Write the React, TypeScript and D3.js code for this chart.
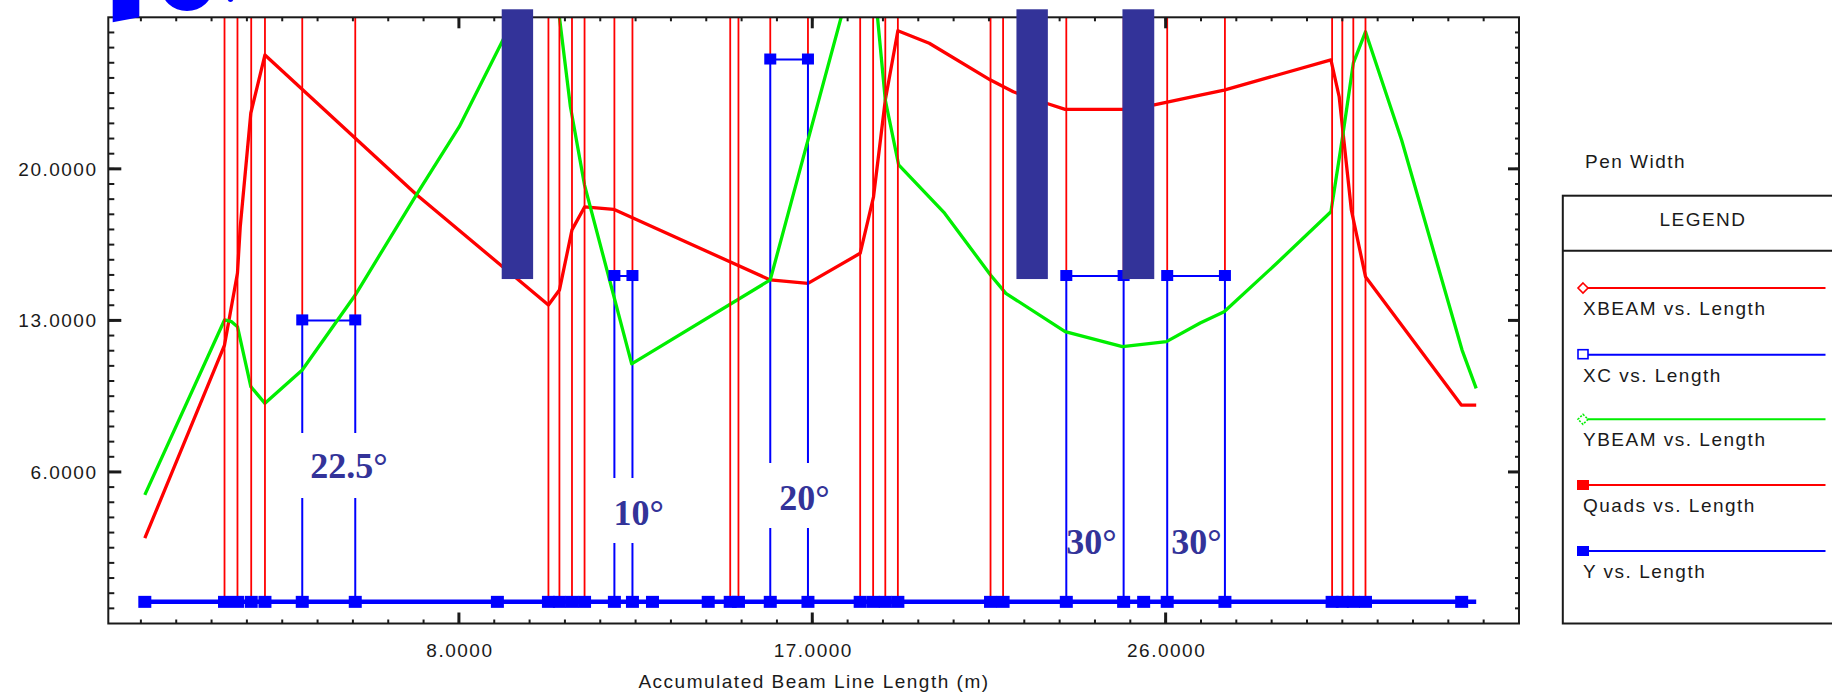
import React from 'react';
import * as d3 from 'd3';

// ---- data ----
const xbeamS = [0.0, 2.03, 2.36, 2.43, 2.70, 3.06, 6.93, 10.28, 10.56, 10.88, 11.20, 11.94, 15.93, 16.89, 18.22, 18.56, 18.86, 19.18, 19.98, 21.54, 22.12, 22.96, 23.44, 24.90, 25.71, 26.88, 27.49, 30.21, 30.42, 30.73, 31.09, 33.53, 33.91];
const xbeamV = [2.94, 11.86, 15.19, 17.31, 22.58, 25.26, 18.79, 13.71, 14.40, 17.18, 18.24, 18.13, 14.87, 14.71, 16.10, 18.71, 23.18, 26.38, 25.80, 24.10, 23.56, 23.03, 22.75, 22.75, 22.95, 23.41, 23.64, 25.03, 23.33, 18.10, 15.02, 9.09, 9.09];

const ybeamS = [0.0, 2.03, 2.21, 2.36, 2.70, 3.06, 4.01, 5.36, 6.94, 8.01, 9.08, 10.28, 10.56, 10.84, 11.20, 12.40, 15.93, 16.89, 17.74, 18.37, 18.66, 18.86, 19.20, 20.37, 21.54, 21.93, 23.44, 24.90, 26.02, 26.88, 27.49, 28.83, 30.21, 30.52, 30.78, 31.09, 32.01, 33.55, 33.91];
const ybeamV = [4.94, 13.02, 12.94, 12.71, 9.94, 9.17, 10.71, 14.17, 18.87, 21.95, 25.80, 30.2, 27.0, 22.87, 19.25, 10.99, 14.87, 21.33, 27.03, 31.49, 27.03, 23.18, 20.18, 17.95, 15.10, 14.25, 12.48, 11.79, 12.02, 12.88, 13.40, 15.64, 18.02, 21.64, 24.88, 26.33, 21.33, 11.63, 9.86];

const quadEdges = [2.03, 2.36, 2.71, 3.06, 10.28, 10.56, 10.88, 11.20, 14.91, 15.12, 18.22, 18.55, 18.86, 19.18, 21.54, 21.86, 30.24, 30.50, 30.78, 31.09];

const dipoleStart = [4.01, 11.96, 15.93, 23.47, 26.04];
const dipoleEnd = [5.36, 12.42, 16.89, 24.93, 27.51];
const xcValues = [13.0, 15.05, 25.05, 15.05, 15.05];
const bendLabels = ['22.5°', '10°', '20°', '30°', '30°'];

const yMarkerS = [0.0, 2.03, 2.36, 2.71, 3.06, 4.01, 5.36, 8.98, 10.28, 10.56, 10.88, 11.20, 11.96, 12.42, 12.93, 14.35, 14.91, 15.12, 15.93, 16.89, 18.22, 18.55, 18.86, 19.18, 21.54, 21.86, 23.47, 24.93, 25.44, 26.04, 27.51, 30.24, 30.50, 30.78, 31.09, 33.54];
const yLineEnd = 33.91;
const yValue = 0;

const navyStart = [9.09, 22.20, 24.90];
const navyEnd = [9.89, 23.00, 25.71];
const navyTop = 27.37;
const navyBottom = 14.91;

const xTickValues = [8, 17, 26];
const xTickLabels = ['8.0000', '17.0000', '26.0000'];
const yTickValues = [6, 13, 20];
const yTickLabels = ['6.0000', '13.0000', '20.0000'];

const legendNames = ['XBEAM vs. Length', 'XC vs. Length', 'YBEAM vs. Length', 'Quads vs. Length', 'Y vs. Length'];
const legendColors = ['#ff0000', '#0000ff', '#00ee00', '#ff0000', '#0000ff'];
const legendMarkers = ['diamond', 'openSquare', 'dashDiamond', 'square', 'square'];

const xAxisTitle = 'Accumulated Beam Line Length (m)';

export default function App() {
  const W = 1832, H = 699;
  const L = 108.3, R = 1519, T = 17.3, B = 623.5;
  const x = d3.scaleLinear().domain([-0.93, 35]).range([L, R]);
  const y = d3.scaleLinear().domain([-1, 27]).range([B, T]);
  const line = d3.line<number>();

  const mk = (xs: number[], vs: number[]) =>
    d3.line<number>().x((_, i) => x(xs[i])).y((_, i) => y(vs[i]))(xs) || '';

  const xMinor = d3.range(0, 40).map(i => Math.round((-0.1 + 0.9 * i) * 100) / 100).filter(v => v > -0.93 && v < 35);
  const yMinor = d3.range(0, 41).map(i => Math.round((-1 + 0.7 * i) * 100) / 100).filter(v => v > -1 && v < 27);

  const font = "'Liberation Sans', Arial, sans-serif";
  const txt = { fontFamily: font, fontSize: 19, letterSpacing: 1.5, fill: '#1a1a1a' } as const;

  const navy = '#333399';
  const sq = 13;
  const sqXc = 12;

  // label layout
  const labelDx = [8, -1, 9, 0, 4];
  const labelBase = [478, 525, 510, 554, 554];
  const boxes = [
    [296, 433, 96, 65],
    [609, 478, 58, 65],
    [766, 463, 67, 65],
  ];

  const legendY = [288, 354.7, 419.3, 485, 551];
  const lx0 = 1583, lx1 = 1825.5;

  return (
    <svg width={W} height={H} style={{ position: 'absolute', left: 0, top: 0, background: '#fff' }}>
      <defs>
        <clipPath id="plot">
          <rect x={L} y={T} width={R - L} height={B - T} />
        </clipPath>
      </defs>
      <rect x={0} y={0} width={W} height={H} fill="#fff" />

      <g clipPath="url(#plot)">
        {/* XBEAM */}
        <path d={mk(xbeamS, xbeamV)} fill="none" stroke="#ff0000" strokeWidth={3.3} strokeLinejoin="round" />
        {/* XC */}
        {dipoleStart.map((s, i) => (
          <path key={'xc' + i}
            d={mk([s, s, dipoleEnd[i], dipoleEnd[i]], [yValue, xcValues[i], xcValues[i], yValue])}
            fill="none" stroke="#0000ff" strokeWidth={2} />
        ))}
        {/* YBEAM */}
        <path d={mk(ybeamS, ybeamV)} fill="none" stroke="#00ee00" strokeWidth={3.3} strokeLinejoin="round" />
        {/* Quads */}
        {quadEdges.map((q, i) => (
          <line key={'q' + i} x1={x(q)} x2={x(q)} y1={y(yValue)} y2={y(27)} stroke="#ff0000" strokeWidth={1.8} />
        ))}
        {dipoleStart.map((s, i) => (
          <g key={'qd' + i}>
            <line x1={x(s)} x2={x(s)} y1={y(xcValues[i])} y2={y(27)} stroke="#ff0000" strokeWidth={1.8} />
            <line x1={x(dipoleEnd[i])} x2={x(dipoleEnd[i])} y1={y(xcValues[i])} y2={y(27)} stroke="#ff0000" strokeWidth={1.8} />
          </g>
        ))}
        {/* XC markers */}
        {dipoleStart.map((s, i) => (
          <g key={'xcm' + i}>
            <rect x={x(s) - sqXc / 2} y={y(xcValues[i]) - sqXc / 2} width={sqXc} height={sqXc - 1} fill="#0000ff" />
            <rect x={x(dipoleEnd[i]) - sqXc / 2} y={y(xcValues[i]) - sqXc / 2} width={sqXc} height={sqXc - 1} fill="#0000ff" />
          </g>
        ))}
        {/* Y */}
        <path d={mk([yMarkerS[0], yLineEnd], [yValue, yValue])} fill="none" stroke="#0000ff" strokeWidth={4.5} />
        {yMarkerS.map((s, i) => (
          <rect key={'ym' + i} x={x(s) - sq / 2} y={y(yValue) - 6} width={sq} height={12} fill="#0000ff" />
        ))}
      </g>

      {/* frame & ticks */}
      <g stroke="#1a1a1a" strokeWidth={2}>
        <rect x={L} y={T} width={R - L} height={B - T} fill="none" />
        {xMinor.map((v, i) => (
          <g key={'xm' + i}>
            <line x1={x(v)} x2={x(v)} y1={B} y2={B - 4} />
            <line x1={x(v)} x2={x(v)} y1={T} y2={T + 4} />
          </g>
        ))}
        {xTickValues.map((v, i) => (
          <g key={'xM' + i}>
            <line x1={x(v)} x2={x(v)} y1={B} y2={B - 11} strokeWidth={3} />
            <line x1={x(v)} x2={x(v)} y1={T} y2={T + 11} strokeWidth={3} />
          </g>
        ))}
        {yMinor.map((v, i) => (
          <g key={'ymn' + i}>
            <line x1={L} x2={L + 6} y1={y(v)} y2={y(v)} />
            <line x1={R} x2={R - 4} y1={y(v)} y2={y(v)} />
          </g>
        ))}
        {yTickValues.map((v, i) => (
          <g key={'yM' + i}>
            <line x1={L} x2={L + 13} y1={y(v)} y2={y(v)} strokeWidth={3} />
            <line x1={R} x2={R - 11} y1={y(v)} y2={y(v)} strokeWidth={3} />
          </g>
        ))}
      </g>

      {xTickValues.map((v, i) => (
        <text key={'xl' + i} x={x(v) + 1} y={657} textAnchor="middle" {...txt}>{xTickLabels[i]}</text>
      ))}
      {yTickValues.map((v, i) => (
        <text key={'yl' + i} x={97.5} y={y(v) + 7} textAnchor="end" {...txt}>{yTickLabels[i]}</text>
      ))}
      <text x={814} y={688} textAnchor="middle" {...txt}>{xAxisTitle}</text>

      {/* bend-angle annotations */}
      {boxes.map((b, i) => (
        <rect key={'bx' + i} x={b[0]} y={b[1]} width={b[2]} height={b[3]} fill="#fff" />
      ))}
      {bendLabels.map((t, i) => (
        <text key={'bl' + i} x={x(dipoleStart[i]) + labelDx[i]} y={labelBase[i]}
          fontFamily="'Liberation Serif', 'Times New Roman', serif" fontWeight="bold" fontSize={36} fill={navy}>{t}</text>
      ))}

      {/* navy overlay bars */}
      {navyStart.map((s, i) => (
        <rect key={'nv' + i} x={x(s)} y={y(navyTop)} width={x(navyEnd[i]) - x(s)} height={y(navyBottom) - y(navyTop)} fill={navy} />
      ))}

      {/* cropped title fragment */}
      <path d={line([[112.7, 0], [139.3, 0], [139.3, 17.3], [112.7, 22.3]] as any) + 'Z'} fill="#0000ff" />
      <ellipse cx={187} cy={-13} rx={26} ry={24} fill="#0000ff" />
      <ellipse cx={230.5} cy={-2} rx={3} ry={4} fill="#0000ff" />

      {/* legend */}
      <text x={1585} y={168} {...txt}>Pen Width</text>
      <rect x={1562.8} y={195.7} width={300} height={B - 195.7} fill="none" stroke="#1a1a1a" strokeWidth={2} />
      <line x1={1562.8} x2={1840} y1={250.7} y2={250.7} stroke="#1a1a1a" strokeWidth={2} />
      <text x={1703} y={226} textAnchor="middle" {...txt}>LEGEND</text>
      {legendNames.map((n, i) => {
        const ly = legendY[i];
        const c = legendColors[i];
        const m = legendMarkers[i];
        return (
          <g key={'lg' + i}>
            <line x1={lx0} x2={lx1} y1={ly} y2={ly} stroke={c} strokeWidth={2} />
            {m === 'diamond' && (
              <path d={`M${lx0},${ly - 5}L${lx0 + 5},${ly}L${lx0},${ly + 5}L${lx0 - 5},${ly}Z`} fill="#fff" stroke={c} strokeWidth={1.6} />
            )}
            {m === 'dashDiamond' && (
              <path d={`M${lx0},${ly - 5}L${lx0 + 5},${ly}L${lx0},${ly + 5}L${lx0 - 5},${ly}Z`} fill="#fff" stroke={c} strokeWidth={1.6} strokeDasharray="2,1.5" />
            )}
            {m === 'openSquare' && (
              <rect x={lx0 - 5} y={ly - 5} width={10} height={9} fill="#fff" stroke={c} strokeWidth={1.6} />
            )}
            {m === 'square' && (
              <rect x={lx0 - 6} y={ly - 5} width={12} height={10} fill={c} />
            )}
            <text x={lx0} y={ly + 27} {...txt}>{n}</text>
          </g>
        );
      })}
    </svg>
  );
}
